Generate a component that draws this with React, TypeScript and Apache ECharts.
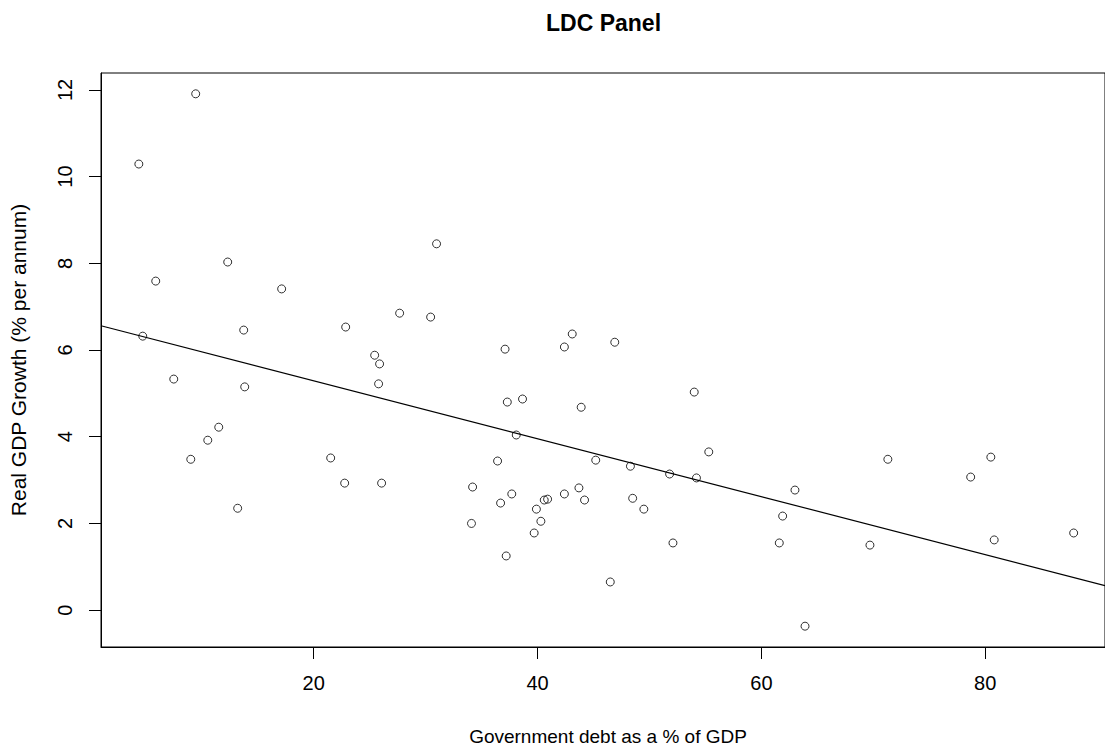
import React, { useEffect, useRef } from "react";
import * as echarts from "echarts";

const debt: number[] = [
  4.38, 9.46, 4.73, 5.89, 7.5, 9.02, 10.54, 11.52, 12.32, 13.75, 13.84, 13.21, 17.14,
  21.52, 22.77, 22.86, 25.45, 25.89, 25.8, 26.07, 27.68, 30.45, 30.98, 36.43, 34.2,
  34.1, 36.7, 37.1, 37.3, 37.2, 37.7, 38.66, 38.1, 39.9, 39.7, 40.3, 40.6, 40.9,
  42.4, 43.1, 42.4, 43.7, 43.9, 44.2, 45.2, 46.9, 46.5, 48.3, 48.5, 49.5, 51.8,
  52.1, 54.0, 54.2, 55.3, 61.6, 61.9, 63.0, 63.9, 69.7, 71.3, 78.7, 80.5, 80.8, 87.9,
];
const growth: number[] = [
  10.29, 11.91, 6.32, 7.59, 5.33, 3.48, 3.92, 4.22, 8.03, 6.46, 5.15, 2.35, 7.41,
  3.51, 2.93, 6.53, 5.88, 5.68, 5.22, 2.93, 6.85, 6.76, 8.45, 3.44, 2.84,
  2.0, 2.47, 6.02, 4.8, 1.25, 2.68, 4.87, 4.04, 2.33, 1.78, 2.05, 2.54, 2.56,
  6.07, 6.37, 2.68, 2.82, 4.68, 2.54, 3.46, 6.18, 0.65, 3.32, 2.58, 2.33, 3.14,
  1.55, 5.03, 3.05, 3.65, 1.55, 2.17, 2.77, -0.37, 1.5, 3.48, 3.07, 3.53, 1.62, 1.78,
];
const xTicks: number[] = [20, 40, 60, 80];
const yTicks: number[] = [0, 2, 4, 6, 8, 10, 12];
const fitIntercept = 6.626;
const fitSlope = -0.0668;
const X_MIN = 1.0;
const X_MAX = 90.7;
const Y_MIN = -0.85;
const Y_MAX = 12.39;

const FONT = "'Liberation Sans', Arial, sans-serif";
const TICK_LEN = 12;

export default function App() {
  const ref = useRef<HTMLDivElement>(null);
  useEffect(() => {
    if (!ref.current) return;
    const chart = echarts.init(ref.current, null, { renderer: "svg" });
    const points = debt.map((d, i) => [d, growth[i]]);
    const fit = [
      [X_MIN, fitIntercept + fitSlope * X_MIN],
      [X_MAX, fitIntercept + fitSlope * X_MAX],
    ];
    chart.setOption({
      animation: false,
      backgroundColor: "#fff",
      title: {
        text: "LDC Panel",
        left: 541,
        top: 6,
        textStyle: { fontFamily: FONT, fontSize: 23, fontWeight: "bold", color: "#000" },
      },
      grid: { left: 99, top: 73, right: 0, bottom: 103.5, show: true, borderColor: "#000", borderWidth: 1, containLabel: false },
      xAxis: {
        type: "value",
        min: X_MIN,
        max: X_MAX,
        name: "Government debt as a % of GDP",
        nameLocation: "middle",
        nameGap: 80,
        nameTextStyle: { fontFamily: FONT, fontSize: 19, color: "#000", padding: [0, 0, 0, 10] },
        axisLine: { show: true, onZero: false, lineStyle: { color: "#000", width: 1 } },
        axisTick: { show: true, inside: false, length: TICK_LEN, customValues: xTicks, lineStyle: { color: "#000", width: 1 } },
        axisLabel: { customValues: xTicks, margin: 26, fontFamily: FONT, fontSize: 20, color: "#000" },
        splitLine: { show: false },
      },
      yAxis: {
        type: "value",
        min: Y_MIN,
        max: Y_MAX,
        name: "Real GDP Growth (% per annum)",
        nameLocation: "middle",
        nameRotate: 90,
        nameGap: 72,
        nameTextStyle: { fontFamily: FONT, fontSize: 21, color: "#000" },
        axisLine: { show: true, onZero: false, lineStyle: { color: "#000", width: 1 } },
        axisTick: { show: true, inside: false, length: TICK_LEN, customValues: yTicks, lineStyle: { color: "#000", width: 1 } },
        axisLabel: { customValues: yTicks, rotate: 90, margin: 26, fontFamily: FONT, fontSize: 20, color: "#000" },
        splitLine: { show: false },
      },
      series: [
        {
          type: "scatter",
          data: points,
          symbol: "circle",
          symbolSize: 8,
          itemStyle: { color: "rgba(0,0,0,0)", borderColor: "#000", borderWidth: 1 },
        },
        {
          type: "line",
          data: fit,
          symbol: "none",
          lineStyle: { color: "#000", width: 1.2 },
        },
      ],
    });
    return () => chart.dispose();
  }, []);
  return <div ref={ref} style={{ position: "fixed", left: 0, top: 0, width: 1105, height: 751 }} />;
}
